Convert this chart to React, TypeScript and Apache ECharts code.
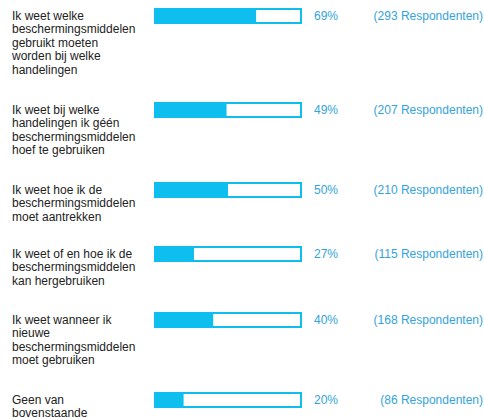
import React, { useEffect, useRef } from "react";
import * as echarts from "echarts";

const categories = [
  "Ik weet welke\nbeschermingsmiddelen\ngebruikt moeten\nworden bij welke\nhandelingen",
  "Ik weet bij welke\nhandelingen ik géén\nbeschermingsmiddelen\nhoef te gebruiken",
  "Ik weet hoe ik de\nbeschermingsmiddelen\nmoet aantrekken",
  "Ik weet of en hoe ik de\nbeschermingsmiddelen\nkan hergebruiken",
  "Ik weet wanneer ik\nnieuwe\nbeschermingsmiddelen\nmoet gebruiken",
  "Geen van\nbovenstaande",
];
const percentages = [69, 49, 50, 27, 40, 20];
const respondents = [293, 207, 210, 115, 168, 86];

// layout: top of each row's bar (px)
const rowTops = [7, 101, 181, 245, 311, 391];

const BAR = "#0DBEEE";
const LABEL = "#33A3DB";
const FONT = "Liberation Sans, Arial, sans-serif";

export default function App() {
  const ref = useRef<HTMLDivElement>(null);
  useEffect(() => {
    document.body.style.margin = "0";
    if (!ref.current) return;
    const chart = echarts.init(ref.current, null, { renderer: "svg" });
    const grid: any[] = [];
    const xAxis: any[] = [];
    const yAxis: any[] = [];
    const series: any[] = [];
    categories.forEach((cat, i) => {
      grid.push({ left: 154, width: 148, top: rowTops[i], height: 18 });
      xAxis.push({ gridIndex: i, type: "value", min: 0, max: 100, show: false });
      yAxis.push({ gridIndex: i, type: "category", data: [cat], show: false });
      series.push({
        type: "bar",
        xAxisIndex: i,
        yAxisIndex: i,
        data: [100],
        barWidth: 16,
        barGap: "-100%",
        silent: true,
        itemStyle: { color: "#ffffff", borderColor: BAR, borderWidth: 2 },
        label: {
          show: true,
          position: [-142, 1],
          align: "left",
          verticalAlign: "top",
          formatter: () => cat,
          color: "#222222",
          fontSize: 12,
          lineHeight: 13.5,
          fontFamily: FONT,
        },
      });
      series.push({
        type: "bar",
        xAxisIndex: i,
        yAxisIndex: i,
        data: [percentages[i]],
        barWidth: 16,
        barGap: "-100%",
        silent: true,
        itemStyle: { color: BAR, borderColor: BAR, borderWidth: 2 },
        label: {
          show: true,
          position: [160, 8],
          align: "left",
          verticalAlign: "middle",
          formatter: () => percentages[i] + "%",
          color: LABEL,
          fontSize: 12,
          fontFamily: FONT,
        },
      });
      series.push({
        type: "bar",
        xAxisIndex: i,
        yAxisIndex: i,
        data: [100],
        barWidth: 16,
        barGap: "-100%",
        silent: true,
        itemStyle: { color: "rgba(0,0,0,0)" },
        label: {
          show: true,
          position: [329, 8],
          align: "right",
          verticalAlign: "middle",
          formatter: () => "(" + respondents[i] + " Respondenten)",
          color: LABEL,
          fontSize: 12,
          fontFamily: FONT,
        },
      });
    });
    chart.setOption({
      animation: false,
      backgroundColor: "#ffffff",
      grid,
      xAxis,
      yAxis,
      series,
    });
    return () => chart.dispose();
  }, []);
  return <div ref={ref} style={{ width: 484, height: 418 }} />;
}
